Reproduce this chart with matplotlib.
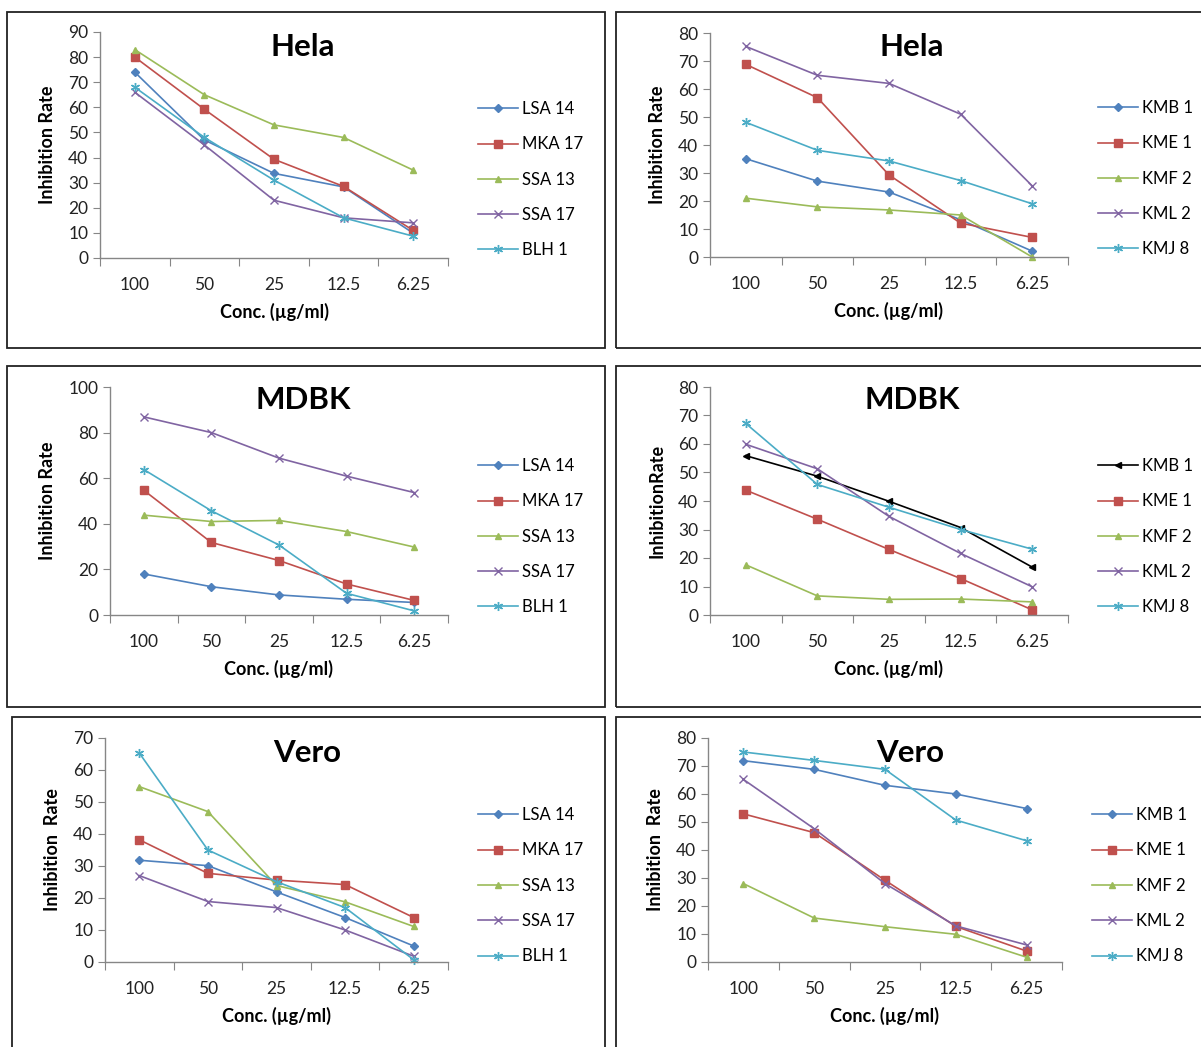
import matplotlib
matplotlib.use("Agg")
import matplotlib.pyplot as plt
from matplotlib.patches import Rectangle

W, H = 1201, 1047

conc = ["100", "50", "25", "12.5", "6.25"]

# left column samples
left_names = ["LSA 14", "MKA 17", "SSA 13", "SSA 17", "BLH 1"]
hela_left = [
    [74, 47, 33.7, 28.3, 9.9],
    [80, 59.2, 39.3, 28.5, 11],
    [83, 65, 53, 48, 35],
    [66, 45, 23, 16, 14],
    [68, 48, 31, 16, 8.7],
]
mdbk_left = [
    [18, 12.4, 8.8, 6.9, 5.5],
    [54.7, 31.8, 23.9, 13.6, 6.4],
    [43.8, 41, 41.5, 36.6, 29.8],
    [86.9, 80, 68.8, 60.9, 53.7],
    [63.8, 45.7, 30.7, 9.5, 1.8],
]
vero_left = [
    [31.8, 30.1, 21.9, 13.9, 5],
    [38.2, 27.7, 25.6, 24.2, 13.9],
    [54.8, 47, 23.9, 18.8, 11.1],
    [27, 18.9, 17, 10, 1.8],
    [65.3, 35, 25.1, 17, 0.7],
]

# right column samples
right_names = ["KMB 1", "KME 1", "KMF 2", "KML 2", "KMJ 8"]
hela_right = [
    [35.1, 27.1, 23.2, 13.3, 2.1],
    [68.8, 56.9, 29.3, 12.1, 7],
    [21, 17.9, 16.8, 15, 0],
    [75.2, 64.9, 62, 51, 25.4],
    [48.1, 38.1, 34.3, 27.3, 19],
]
mdbk_right = [
    [55.9, 48.7, 39.9, 30.7, 16.8],
    [43.8, 33.6, 23, 12.8, 1.8],
    [17.6, 6.7, 5.5, 5.6, 4.6],
    [59.9, 51.3, 34.6, 21.6, 9.9],
    [67.2, 45.8, 37.8, 30, 23.1],
]
vero_right = [
    [71.9, 68.8, 63.1, 60, 54.8],
    [52.9, 46.2, 29.2, 12.7, 3.9],
    [28, 15.7, 12.6, 9.9, 1.7],
    [65.2, 47.6, 28, 12.9, 6.1],
    [75, 72, 68.8, 50.7, 43.3],
]

colors = ["#4F81BD", "#C0504D", "#9BBB59", "#8064A2", "#4BACC6"]
markers = ["D", "s", "^", "x", (6, 2, 0)]
msizes = [4, 5.5, 5, 5.5, 6.5]

plt.rcParams['font.family'] = ['Lato', 'DejaVu Sans']

fig = plt.figure(figsize=(W / 100, H / 100), dpi=100)


def box(l, t, r, b):
    # pixel box -> figure fraction [left, bottom, width, height]
    return [l / W, 1 - b / H, (r - l) / W, (b - t) / H]


# panel frames
frames = [(7, 12, 605, 348), (616, 12, 1260, 348),
          (7, 366, 605, 707), (616, 366, 1260, 707),
          (12, 717, 605, 1100), (616, 717, 1260, 1100)]
for l, t, r, b in frames:
    fig.patches.append(Rectangle((l / W, 1 - b / H), (r - l) / W, (b - t) / H,
                                 transform=fig.transFigure, fill=False,
                                 edgecolor="#222222", linewidth=1.3, zorder=0))

panels = [
    # data, names, title, ymax, ystep, axes box, title pos, legend pos, ylabel, line colors
    (hela_left, left_names, "Hela", 90, 10, (100, 32, 448, 258), (303, 47), (478, 101), "Inhibition Rate", None),
    (hela_right, right_names, "Hela", 80, 10, (710, 33, 1068, 257), (912, 47), (1098, 100), "Inhibition Rate", None),
    (mdbk_left, left_names, "MDBK", 100, 20, (110, 387, 448, 615), (303, 400), (478, 458), "Inhibition Rate", None),
    (mdbk_right, right_names, "MDBK", 80, 10, (710, 387, 1068, 615), (912, 400), (1098, 458), "InhibitionRate",
     ["#000000"] + colors[1:]),
    (vero_left, left_names, "Vero", 70, 10, (105, 738, 448, 962), (307, 753), (478, 807), "Inhibition  Rate", None),
    (vero_right, right_names, "Vero", 80, 10, (708, 738, 1062, 962), (910, 753), (1092, 807), "Inhibition  Rate", None),
]

axis_col = "#868686"

for data, names, title, ymax, ystep, (l, t, r, b), (tx, ty), (lx, ly), ylab, cols in panels:
    ax = fig.add_axes(box(l, t, r, b))
    cols = cols or colors
    x = list(range(len(conc)))
    for i, series in enumerate(data):
        mk = markers[i]
        if cols[i] == "#000000":
            mk = "<"
        ax.plot(x, series, color=cols[i], marker=mk, markersize=msizes[i],
                linewidth=1.2, markeredgewidth=1.0, label=names[i], clip_on=False)
    ax.set_xlim(-0.5, 4.5)
    ax.set_ylim(0, ymax)
    ax.set_yticks(range(0, ymax + 1, ystep))
    ax.set_xticks([i - 0.5 for i in range(6)], minor=False)
    ax.set_xticklabels([])
    ax.set_xticks(x, minor=True)
    ax.set_xticklabels(conc, minor=True)
    ax.tick_params(axis="x", which="major", length=6, color=axis_col, direction="out")
    ax.tick_params(axis="x", which="minor", length=0, labelsize=12.5, pad=14, labelcolor="#222222")
    ax.tick_params(axis="y", length=5, color=axis_col, labelsize=12.5, labelcolor="#222222")
    for s in ["top", "right"]:
        ax.spines[s].set_visible(False)
    for s in ["left", "bottom"]:
        ax.spines[s].set_color(axis_col)
        ax.spines[s].set_linewidth(1.0)
    ax.set_xlabel("Conc. (\u00b5g/ml)", fontsize=13, fontweight="bold", labelpad=7)
    ax.set_ylabel(ylab, fontsize=13, fontweight="bold", labelpad=9)
    fig.text(tx / W, 1 - ty / H, title, fontsize=22.5, fontweight="bold",
             ha="center", va="center")
    fig.legend(*ax.get_legend_handles_labels(), loc="upper left",
               bbox_to_anchor=(lx / W, 1 - ly / H), frameon=False,
               fontsize=12, labelspacing=1.16, handlelength=2.4,
               handletextpad=0.25, borderpad=0, borderaxespad=0)

fig.savefig("out.png", dpi=100, facecolor="white")
